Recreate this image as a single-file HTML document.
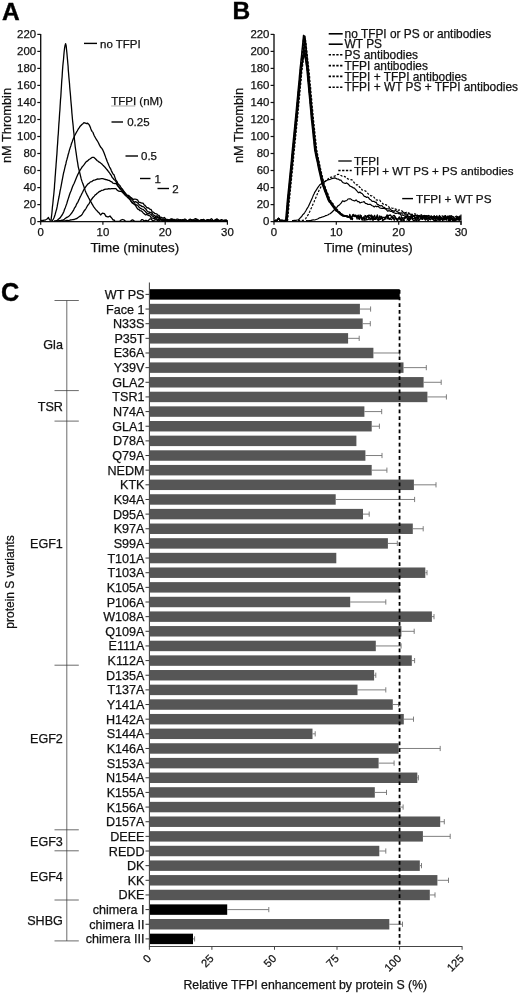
<!DOCTYPE html>
<html><head><meta charset="utf-8"><title>Figure</title>
<style>html,body{margin:0;padding:0;background:#fff}body{width:520px;height:994px;overflow:hidden;font-family:"Liberation Sans",sans-serif}</style></head>
<body>
<svg width="520" height="994" viewBox="0 0 520 994" style="display:block;filter:grayscale(1)">
<rect width="520" height="994" fill="#fff"/>
<g>
<text x="2" y="20.4" font-family="Liberation Sans, sans-serif" font-size="24.5" font-weight="bold" fill="#000" stroke="#000" stroke-width="0.4">A</text>
<text x="232.4" y="19.3" font-family="Liberation Sans, sans-serif" font-size="24.5" font-weight="bold" fill="#000" stroke="#000" stroke-width="0.4">B</text>
<text x="1.0" y="300.5" font-family="Liberation Sans, sans-serif" font-size="25.2" font-weight="bold" fill="#000" stroke="#000" stroke-width="0.4">C</text>
<path d="M40.7 33.9 V221.6 H227.9" fill="none" stroke="#111" stroke-width="1.35"/>
<path d="M37.300000000000004 221.6 H40.7" stroke="#111" stroke-width="1.2"/>
<text x="36.1" y="225.3" font-family="Liberation Sans, sans-serif" font-size="11.4" text-anchor="end" fill="#111" stroke="#111" stroke-width="0.25">0</text>
<path d="M37.300000000000004 204.6 H40.7" stroke="#111" stroke-width="1.2"/>
<text x="36.1" y="208.3" font-family="Liberation Sans, sans-serif" font-size="11.4" text-anchor="end" fill="#111" stroke="#111" stroke-width="0.25">20</text>
<path d="M37.300000000000004 187.6 H40.7" stroke="#111" stroke-width="1.2"/>
<text x="36.1" y="191.3" font-family="Liberation Sans, sans-serif" font-size="11.4" text-anchor="end" fill="#111" stroke="#111" stroke-width="0.25">40</text>
<path d="M37.300000000000004 170.5 H40.7" stroke="#111" stroke-width="1.2"/>
<text x="36.1" y="174.2" font-family="Liberation Sans, sans-serif" font-size="11.4" text-anchor="end" fill="#111" stroke="#111" stroke-width="0.25">60</text>
<path d="M37.300000000000004 153.5 H40.7" stroke="#111" stroke-width="1.2"/>
<text x="36.1" y="157.2" font-family="Liberation Sans, sans-serif" font-size="11.4" text-anchor="end" fill="#111" stroke="#111" stroke-width="0.25">80</text>
<path d="M37.300000000000004 136.5 H40.7" stroke="#111" stroke-width="1.2"/>
<text x="36.1" y="140.2" font-family="Liberation Sans, sans-serif" font-size="11.4" text-anchor="end" fill="#111" stroke="#111" stroke-width="0.25">100</text>
<path d="M37.300000000000004 119.5 H40.7" stroke="#111" stroke-width="1.2"/>
<text x="36.1" y="123.2" font-family="Liberation Sans, sans-serif" font-size="11.4" text-anchor="end" fill="#111" stroke="#111" stroke-width="0.25">120</text>
<path d="M37.300000000000004 102.5 H40.7" stroke="#111" stroke-width="1.2"/>
<text x="36.1" y="106.2" font-family="Liberation Sans, sans-serif" font-size="11.4" text-anchor="end" fill="#111" stroke="#111" stroke-width="0.25">140</text>
<path d="M37.300000000000004 85.4 H40.7" stroke="#111" stroke-width="1.2"/>
<text x="36.1" y="89.1" font-family="Liberation Sans, sans-serif" font-size="11.4" text-anchor="end" fill="#111" stroke="#111" stroke-width="0.25">160</text>
<path d="M37.300000000000004 68.4 H40.7" stroke="#111" stroke-width="1.2"/>
<text x="36.1" y="72.1" font-family="Liberation Sans, sans-serif" font-size="11.4" text-anchor="end" fill="#111" stroke="#111" stroke-width="0.25">180</text>
<path d="M37.300000000000004 51.4 H40.7" stroke="#111" stroke-width="1.2"/>
<text x="36.1" y="55.1" font-family="Liberation Sans, sans-serif" font-size="11.4" text-anchor="end" fill="#111" stroke="#111" stroke-width="0.25">200</text>
<path d="M37.300000000000004 34.4 H40.7" stroke="#111" stroke-width="1.2"/>
<text x="36.1" y="38.1" font-family="Liberation Sans, sans-serif" font-size="11.4" text-anchor="end" fill="#111" stroke="#111" stroke-width="0.25">220</text>
<path d="M40.7 221.6 V224.79999999999998" stroke="#111" stroke-width="1.2"/>
<text x="40.7" y="235.9" font-family="Liberation Sans, sans-serif" font-size="11.4" text-anchor="middle" fill="#111" stroke="#111" stroke-width="0.25">0</text>
<path d="M102.9 221.6 V224.79999999999998" stroke="#111" stroke-width="1.2"/>
<text x="102.9" y="235.9" font-family="Liberation Sans, sans-serif" font-size="11.4" text-anchor="middle" fill="#111" stroke="#111" stroke-width="0.25">10</text>
<path d="M165.2 221.6 V224.79999999999998" stroke="#111" stroke-width="1.2"/>
<text x="165.2" y="235.9" font-family="Liberation Sans, sans-serif" font-size="11.4" text-anchor="middle" fill="#111" stroke="#111" stroke-width="0.25">20</text>
<path d="M227.4 221.6 V224.79999999999998" stroke="#111" stroke-width="1.2"/>
<text x="227.4" y="235.9" font-family="Liberation Sans, sans-serif" font-size="11.4" text-anchor="middle" fill="#111" stroke="#111" stroke-width="0.25">30</text>
<text x="134.8" y="251.9" font-family="Liberation Sans, sans-serif" font-size="13.4" text-anchor="middle" fill="#111" stroke="#111" stroke-width="0.25">Time (minutes)</text>
<text transform="translate(11.4,125.5) rotate(-90)" font-family="Liberation Sans, sans-serif" font-size="12.8" text-anchor="middle" fill="#111" stroke="#111" stroke-width="0.25">nM Thrombin</text>
<path d="M41.0 220.6 L42.0 220.4 L43.0 220.7 L44.0 220.2 L44.8 220.2 L45.7 219.8 L46.5 219.3 L47.5 218.7 L48.4 217.5 L49.6 219.9 L51.1 220.3 L51.4 217.1 L51.8 214.0 L52.1 210.9 L52.4 207.2 L52.8 204.0 L53.1 200.9 L53.4 197.8 L53.8 194.3 L54.1 190.9 L54.4 187.9 L54.6 184.0 L54.9 181.1 L55.1 177.4 L55.4 174.0 L55.6 170.6 L55.9 167.4 L56.1 164.3 L56.4 160.6 L56.6 157.5 L56.9 154.1 L57.1 150.6 L57.3 147.3 L57.6 143.6 L57.8 140.2 L58.0 136.9 L58.3 133.8 L58.5 130.3 L58.7 126.8 L58.9 123.6 L59.2 120.1 L59.4 116.6 L59.6 113.5 L59.9 110.0 L60.1 106.3 L60.3 103.2 L60.5 99.9 L60.8 96.8 L61.0 93.4 L61.2 89.9 L61.4 87.0 L61.6 83.2 L61.8 80.1 L62.1 77.0 L62.3 73.3 L62.5 70.2 L62.8 66.3 L63.1 63.1 L63.5 59.5 L63.8 55.8 L64.1 52.3 L64.5 48.7 L65.0 45.6 L65.6 43.6 L66.2 46.0 L66.5 49.4 L66.9 53.0 L67.2 56.5 L67.5 59.6 L67.8 63.2 L68.1 66.3 L68.3 70.1 L68.6 73.5 L68.9 77.2 L69.2 80.5 L69.5 83.5 L69.7 86.8 L70.0 90.3 L70.3 93.2 L70.6 96.7 L70.8 99.8 L71.1 103.1 L71.4 106.4 L71.7 110.1 L71.9 113.0 L72.2 116.3 L72.5 119.8 L72.9 123.4 L73.2 126.3 L73.5 129.9 L73.9 133.3 L74.2 136.9 L74.5 140.2 L74.9 143.6 L75.2 146.6 L75.7 150.0 L76.2 153.3 L76.7 157.0 L77.2 160.4 L77.7 163.2 L78.2 166.6 L79.2 170.7 L80.2 174.7 L81.2 178.9 L82.0 181.4 L82.8 183.6 L83.7 185.9 L84.5 188.5 L85.3 190.9 L86.1 192.7 L87.0 194.6 L87.8 196.1 L88.6 197.7 L89.5 199.4 L90.3 201.1 L91.1 202.1 L92.0 203.9 L92.8 205.2 L93.6 206.6 L94.5 207.8 L95.3 208.9 L96.1 209.9 L96.9 210.6 L97.8 211.8 L98.6 212.4 L99.4 213.3 L100.6 215.0 L101.5 214.0 L102.4 213.2 L103.4 213.4 L104.4 213.7 L106.0 216.3 L106.8 216.5 L107.6 216.9 L108.4 216.9 L110.0 216.0 L111.0 217.3 L112.0 218.4 L113.0 220.0 L114.0 219.9 L115.0 221.3 L115.9 221.3 L116.8 221.3 L117.8 221.3 L118.7 221.3 L119.6 221.3 L120.6 220.4 L121.6 219.8 L122.6 219.5 L123.6 219.8 L124.6 220.4 L125.6 221.3 L126.6 221.3 L127.6 221.3 L128.6 221.3 L129.6 221.3 L130.6 221.3 L131.5 220.3 L132.5 219.9 L133.4 220.3 L134.4 221.3 L135.4 221.3 L136.4 221.3 L137.4 221.3 L138.4 221.3 L139.4 221.3 L140.4 221.3 L141.6 219.7 L142.8 219.7 L144.0 221.3 L144.9 220.6 L145.9 220.3 L146.9 220.6 L147.9 221.3 L148.9 219.9 L149.9 218.9 L150.9 218.9 L152.0 219.9 L153.0 221.3 L153.9 220.5 L154.8 219.9 L155.8 219.7 L156.7 219.9 L157.6 220.5 L158.6 221.3 L159.6 220.0 L160.6 219.4 L161.6 220.0 L162.6 221.3 L163.5 220.7 L164.5 220.1 L165.5 220.0 L166.5 220.1 L167.4 220.7 L168.4 221.3 L169.4 220.1 L170.4 219.2 L171.4 218.8 L172.4 219.2 L173.3 220.1 L174.3 221.3 L175.3 220.2 L176.3 219.3 L177.3 219.0 L178.3 219.3 L179.3 220.2 L180.3 221.3 L181.3 220.2 L182.3 219.7 L183.4 220.2 L184.4 221.3 L185.6 221.3 L186.8 221.3 L188.0 221.3 L189.1 219.8 L190.2 219.1 L191.3 219.8 L192.4 221.3 L193.3 220.2 L194.2 219.3 L195.1 218.7 L196.0 218.7 L196.9 219.3 L197.8 220.2 L198.7 221.3 L199.7 220.6 L200.6 220.1 L201.5 219.7 L202.4 219.7 L203.3 220.1 L204.3 220.6 L205.2 221.3 L206.2 220.4 L207.3 220.0 L208.3 220.4 L209.4 221.3 L210.4 219.5 L211.4 218.7 L212.4 219.5 L213.5 221.3 L214.5 220.3 L215.5 219.5 L216.5 219.2 L217.5 219.5 L218.5 220.3 L219.5 221.3 L220.5 221.3 L221.5 221.3 L222.4 221.3 L223.4 221.3 L224.4 221.3 L225.4 221.3 L226.3 220.1 L227.1 221.3" fill="none" stroke="#000" stroke-width="1.3" stroke-linejoin="round"/>
<path d="M51.5 220.8 L51.9 220.7 L52.7 220.2 L53.4 219.0 L54.2 217.2 L55.2 214.2 L56.1 210.9 L56.6 209.3 L57.1 206.9 L57.6 204.1 L58.1 201.5 L58.6 198.8 L59.1 196.5 L59.6 193.8 L60.1 190.8 L60.6 188.7 L61.1 186.2 L61.6 183.4 L62.1 180.6 L62.6 178.1 L63.1 175.3 L63.6 172.8 L64.1 171.1 L64.7 168.3 L65.3 165.8 L65.9 163.7 L66.4 161.1 L67.0 159.2 L67.6 157.0 L68.2 154.5 L68.9 152.2 L69.5 149.9 L70.2 147.6 L70.9 145.7 L71.5 143.5 L72.2 141.7 L73.0 139.4 L73.8 137.9 L74.6 135.8 L75.4 134.2 L76.2 132.7 L77.2 131.0 L78.3 129.0 L79.3 127.7 L80.2 126.2 L81.9 124.5 L83.2 123.4 L83.9 122.6 L84.4 122.8 L85.2 123.0 L86.0 123.3 L86.8 123.6 L87.6 123.2 L88.4 123.9 L89.2 124.9 L89.8 126.1 L90.4 127.5 L90.9 129.0 L91.5 130.4 L92.2 131.6 L93.0 132.4 L93.5 134.1 L94.2 135.6 L95.1 137.2 L96.2 139.2 L97.3 140.8 L98.4 142.8 L99.4 144.9 L100.4 146.8 L101.2 147.7 L102.0 148.7 L103.0 150.4 L103.6 151.8 L104.3 153.6 L105.0 155.4 L105.7 157.4 L106.5 159.5 L107.3 161.8 L108.0 163.3 L108.8 165.3 L109.6 167.1 L110.5 168.6 L111.3 170.6 L112.2 172.4 L113.0 174.0 L114.0 174.8 L114.9 177.4 L115.9 180.1 L116.9 181.3 L117.8 183.5 L118.8 184.5 L119.8 185.4 L120.7 187.2 L121.7 188.5 L122.7 189.5 L123.6 192.1 L124.6 192.8 L125.5 193.3 L126.4 195.0 L127.3 195.6 L128.2 196.3 L129.2 199.1 L130.4 200.1 L131.3 201.7 L132.3 203.1 L133.3 203.1 L134.4 204.3 L135.5 205.5 L136.6 207.4 L137.8 209.2 L138.9 209.5 L140.0 210.7 L141.1 210.8 L142.2 211.6 L143.4 213.2 L144.5 213.9 L145.7 214.9 L146.8 214.5 L147.9 215.2 L149.0 215.5 L150.0 215.8 L151.5 218.2 L152.9 218.2 L154.2 218.6 L155.6 217.8 L156.8 219.2 L158.0 219.3 L159.4 220.1 L160.8 220.0 L162.1 220.1 L163.2 220.4 L164.0 220.7 L165.0 221.3 L166.0 220.7 L166.9 220.2 L167.9 220.2 L168.8 220.7 L169.8 221.3 L170.8 220.1 L171.8 219.4 L172.8 219.4 L173.8 220.1 L174.8 221.3 L175.8 221.3 L176.8 221.3 L177.8 221.3 L178.9 220.6 L180.0 220.3 L181.1 220.6 L182.2 221.3 L183.2 220.0 L184.3 219.2 L185.3 219.2 L186.3 220.0 L187.3 221.3 L188.3 220.5 L189.3 220.5 L190.3 221.3 L191.3 220.5 L192.2 219.9 L193.2 219.9 L194.2 220.5 L195.2 221.3 L196.2 220.4 L197.2 220.0 L198.3 220.4 L199.3 221.3 L200.3 220.2 L201.4 220.2 L202.4 221.3 L203.4 221.3 L204.4 221.3 L205.5 221.3 L206.4 220.1 L207.4 220.1 L208.4 221.3 L209.6 220.1 L210.7 220.1 L211.9 221.3 L212.9 221.3 L213.9 221.3 L214.9 221.3 L215.9 221.3 L216.8 221.3 L217.7 221.3 L218.6 221.3 L219.5 221.3 L220.7 221.3 L221.8 221.3 L222.9 221.3 L223.9 220.6 L224.8 220.2 L225.7 220.2 L226.6 220.6 L227.1 221.3" fill="none" stroke="#000" stroke-width="1.3" stroke-linejoin="round"/>
<path d="M54.0 220.8 L55.2 220.9 L57.1 220.5 L58.0 219.6 L59.0 218.7 L60.1 217.9 L61.1 216.4 L62.1 215.0 L63.0 213.4 L63.8 211.7 L64.6 209.3 L65.4 207.4 L66.2 205.1 L66.9 203.2 L67.5 201.0 L68.2 198.9 L68.9 196.7 L69.5 194.7 L70.2 192.7 L71.0 191.0 L71.8 188.7 L72.6 186.6 L73.4 184.7 L74.2 183.2 L75.0 181.3 L75.8 179.3 L76.6 177.2 L77.4 175.4 L78.2 173.8 L79.2 171.9 L80.2 169.9 L81.3 168.3 L82.3 166.7 L83.3 165.6 L84.3 164.3 L85.3 162.9 L86.3 161.6 L87.7 160.9 L89.0 159.5 L90.3 158.7 L92.0 157.4 L93.7 157.3 L95.4 158.7 L97.3 160.8 L98.2 161.3 L99.2 162.2 L100.2 162.6 L101.2 163.6 L102.4 164.6 L103.3 165.6 L104.2 166.4 L105.2 167.5 L106.3 168.8 L107.3 170.0 L108.3 171.4 L109.2 172.5 L110.2 174.0 L111.2 175.3 L112.2 177.5 L113.1 178.3 L114.0 179.5 L115.0 180.3 L116.0 181.6 L116.9 183.6 L117.9 185.5 L118.9 187.1 L119.8 188.7 L120.8 189.5 L121.9 190.6 L123.1 191.9 L124.2 193.2 L125.4 195.7 L126.5 196.1 L127.6 197.6 L128.7 198.1 L129.8 199.0 L131.0 201.1 L132.3 202.3 L133.3 203.7 L134.3 204.1 L135.3 204.1 L136.4 205.1 L137.6 205.1 L138.8 207.0 L140.0 207.9 L141.0 208.7 L142.1 209.1 L143.2 209.3 L144.3 210.6 L145.4 211.5 L146.6 213.0 L147.7 213.9 L148.9 213.5 L150.0 214.0 L151.1 214.4 L152.3 216.0 L153.4 216.7 L154.6 217.3 L155.8 217.7 L156.9 216.7 L158.0 218.2 L159.0 218.2 L160.0 218.9 L161.7 219.4 L163.4 220.0 L164.8 219.9 L166.1 220.4 L167.0 220.7 L168.0 221.3 L169.0 221.3 L170.0 221.3 L171.0 221.3 L172.0 221.3 L173.0 219.9 L174.0 219.3 L174.9 219.9 L175.9 221.3 L177.0 220.7 L178.1 220.4 L179.1 220.7 L180.2 221.3 L181.3 221.3 L182.3 221.3 L183.4 221.3 L184.3 221.3 L185.2 221.3 L186.1 221.3 L187.0 221.3 L188.0 221.3 L189.0 221.3 L190.0 221.3 L191.1 221.3 L192.1 221.3 L193.1 221.3 L194.1 221.3 L195.1 221.3 L196.2 220.0 L197.3 219.5 L198.4 220.0 L199.5 221.3 L200.6 221.3 L201.8 221.3 L203.0 221.3 L204.0 221.3 L204.9 221.3 L205.9 221.3 L206.9 221.3 L207.9 220.4 L208.9 220.4 L210.0 221.3 L211.0 220.8 L212.0 220.5 L213.1 220.5 L214.1 220.8 L215.1 221.3 L216.1 219.7 L217.1 219.0 L218.0 219.7 L219.0 221.3 L220.0 221.3 L221.0 221.3 L221.9 221.3 L222.9 221.3 L224.0 220.3 L225.1 220.3 L226.2 221.3 L227.1 221.3" fill="none" stroke="#000" stroke-width="1.3" stroke-linejoin="round"/>
<path d="M57.0 220.8 L57.8 220.9 L59.0 220.7 L60.5 220.7 L62.1 220.1 L63.1 220.1 L64.3 219.2 L65.5 218.2 L66.8 217.4 L68.0 216.8 L69.2 215.9 L70.2 214.9 L71.2 213.6 L72.1 212.5 L72.9 211.2 L73.6 210.1 L74.4 208.2 L75.2 207.2 L76.0 205.6 L76.9 203.5 L77.8 202.3 L78.6 200.4 L79.4 198.8 L80.2 196.9 L81.1 195.2 L81.9 193.5 L82.6 192.3 L83.4 190.5 L84.3 188.9 L85.2 187.6 L86.2 186.1 L87.2 184.8 L88.2 183.7 L89.3 183.1 L90.4 181.9 L91.6 181.7 L92.8 180.7 L94.1 180.2 L95.3 179.9 L96.5 179.3 L97.7 179.0 L99.0 179.1 L100.2 178.8 L101.4 178.7 L102.8 178.7 L104.2 179.1 L105.7 179.5 L107.3 179.8 L108.3 180.3 L109.4 180.4 L110.6 181.4 L111.7 181.8 L112.9 183.1 L114.0 183.3 L115.0 183.6 L116.3 183.4 L117.5 185.8 L118.6 186.3 L119.7 188.1 L120.8 188.9 L121.9 188.9 L123.1 190.6 L124.2 191.5 L125.4 193.3 L126.5 194.9 L127.6 195.5 L128.7 196.8 L129.8 196.8 L131.0 198.6 L132.3 199.7 L133.3 201.1 L134.3 202.4 L135.3 201.7 L136.4 202.2 L137.6 202.8 L138.8 204.2 L140.0 205.4 L140.9 205.5 L141.9 206.6 L142.8 206.5 L143.8 206.8 L144.9 208.2 L145.9 209.1 L146.9 210.6 L148.0 211.9 L149.0 211.9 L150.0 212.6 L151.1 212.5 L152.2 213.4 L153.4 215.2 L154.5 215.4 L155.6 216.5 L156.7 215.9 L157.8 216.3 L158.9 217.6 L160.0 217.5 L161.4 219.5 L162.9 219.0 L164.4 219.3 L165.8 219.5 L167.1 219.8 L168.2 220.1 L169.0 220.3 L170.0 221.3 L171.0 220.1 L171.9 219.5 L172.9 220.1 L173.9 221.3 L174.8 221.3 L175.8 221.3 L176.8 221.3 L177.8 221.3 L178.8 221.3 L179.7 219.7 L180.7 219.7 L181.6 221.3 L182.6 221.3 L183.6 221.3 L184.6 221.3 L185.6 221.3 L186.5 221.3 L187.4 221.3 L188.4 221.3 L189.4 220.3 L190.4 219.6 L191.4 219.6 L192.4 220.3 L193.4 221.3 L194.4 221.3 L195.5 221.3 L196.5 221.3 L197.5 221.3 L198.5 221.3 L199.6 221.3 L200.6 221.3 L201.6 221.3 L202.6 220.0 L203.6 219.4 L204.6 220.0 L205.7 221.3 L206.6 220.4 L207.5 219.7 L208.4 219.7 L209.3 220.4 L210.2 221.3 L211.2 221.3 L212.1 221.3 L213.1 221.3 L214.1 221.3 L215.0 220.5 L216.0 220.5 L217.0 221.3 L218.0 220.7 L219.0 220.3 L220.0 220.3 L221.0 220.7 L222.0 221.3 L223.0 221.3 L224.1 221.3 L225.1 221.3 L226.2 220.8 L227.1 221.3" fill="none" stroke="#000" stroke-width="1.3" stroke-linejoin="round"/>
<path d="M62.0 220.5 L62.9 220.8 L64.1 220.8 L65.5 220.7 L67.1 220.5 L68.7 220.6 L70.2 220.0 L71.5 219.9 L72.8 219.6 L74.2 219.5 L75.6 218.8 L76.9 218.5 L78.1 217.6 L79.2 216.8 L80.5 215.9 L81.5 215.2 L82.5 213.8 L83.3 212.3 L84.3 210.7 L85.1 209.8 L86.0 208.5 L86.8 207.0 L87.6 205.5 L88.5 204.4 L89.3 203.3 L90.3 201.3 L91.2 199.8 L92.2 198.5 L93.2 197.2 L94.3 196.1 L95.2 194.8 L96.2 194.3 L97.2 193.3 L98.3 192.4 L99.3 191.5 L100.4 191.3 L101.7 190.3 L103.2 190.1 L104.6 189.4 L106.0 189.1 L107.3 189.2 L108.8 188.7 L110.2 188.9 L111.6 188.7 L113.0 188.6 L114.4 188.6 L115.9 188.6 L117.3 190.2 L118.8 191.2 L120.0 191.3 L121.1 191.1 L122.3 192.2 L123.4 193.2 L124.6 194.5 L126.0 195.0 L127.3 195.5 L128.7 195.4 L130.4 197.3 L131.4 197.8 L132.5 198.8 L133.7 199.4 L134.9 199.0 L136.2 199.4 L137.5 199.8 L138.8 202.3 L140.0 202.4 L141.0 202.8 L142.0 203.2 L143.0 203.1 L144.0 204.7 L145.0 205.4 L146.0 206.6 L147.0 207.8 L148.0 207.7 L149.0 208.4 L150.0 209.4 L151.1 209.4 L152.3 212.0 L153.4 212.1 L154.6 213.3 L155.7 213.7 L156.8 213.9 L157.9 215.1 L159.0 215.4 L160.0 217.1 L161.5 217.4 L163.0 218.2 L164.4 217.5 L165.7 219.2 L166.9 219.7 L168.0 219.5 L169.8 220.2 L171.1 220.6 L172.0 220.7 L173.0 221.3 L174.0 221.3 L174.9 221.3 L175.9 221.3 L176.9 220.5 L177.9 220.5 L178.8 221.3 L179.8 220.7 L180.7 220.3 L181.6 220.3 L182.5 220.7 L183.4 221.3 L184.6 220.0 L185.7 220.0 L186.9 221.3 L188.0 220.4 L189.2 220.4 L190.3 221.3 L191.5 221.3 L192.6 221.3 L193.8 221.3 L194.7 220.5 L195.6 219.9 L196.6 219.9 L197.5 220.5 L198.4 221.3 L199.4 221.3 L200.4 221.3 L201.4 221.3 L202.5 221.3 L203.5 221.3 L204.6 221.3 L205.7 221.3 L206.8 221.3 L207.8 220.6 L208.9 220.2 L209.9 220.2 L210.9 220.6 L211.9 221.3 L213.1 221.3 L214.2 221.3 L215.3 221.3 L216.3 220.7 L217.3 220.4 L218.3 220.7 L219.3 221.3 L220.3 220.3 L221.2 219.7 L222.1 219.7 L223.1 220.3 L224.0 221.3 L225.0 220.7 L225.9 220.3 L226.8 220.3 L227.1 221.3" fill="none" stroke="#000" stroke-width="1.3" stroke-linejoin="round"/>
<path d="M84 43.4 H97" stroke="#000" stroke-width="1.4"/>
<text x="100" y="47.5" font-family="Liberation Sans, sans-serif" font-size="11.5" fill="#111" stroke="#111" stroke-width="0.25">no TFPI</text>
<text x="111.2" y="104.9" font-family="Liberation Sans, sans-serif" font-size="11.5" fill="#111" stroke="#111" stroke-width="0.25">TFPI (nM)</text>
<path d="M111.2 106.0 H135.2" stroke="#999" stroke-width="0.8"/>
<path d="M111.5 122 H123" stroke="#000" stroke-width="1.4"/>
<text x="127.2" y="126.1" font-family="Liberation Sans, sans-serif" font-size="11.5" fill="#111" stroke="#111" stroke-width="0.25">0.25</text>
<path d="M125.5 156 H138" stroke="#000" stroke-width="1.4"/>
<text x="141" y="160.1" font-family="Liberation Sans, sans-serif" font-size="11.5" fill="#111" stroke="#111" stroke-width="0.25">0.5</text>
<path d="M140 178.5 H150.5" stroke="#000" stroke-width="1.4"/>
<text x="154.5" y="182.6" font-family="Liberation Sans, sans-serif" font-size="11.5" fill="#111" stroke="#111" stroke-width="0.25">1</text>
<path d="M157.5 188.5 H169" stroke="#000" stroke-width="1.4"/>
<text x="172.2" y="192.6" font-family="Liberation Sans, sans-serif" font-size="11.5" fill="#111" stroke="#111" stroke-width="0.25">2</text>
<path d="M274 33.9 V221.6 H461.5" fill="none" stroke="#111" stroke-width="1.35"/>
<path d="M270.6 221.6 H274" stroke="#111" stroke-width="1.2"/>
<text x="269.4" y="225.1" font-family="Liberation Sans, sans-serif" font-size="11.4" text-anchor="end" fill="#111" stroke="#111" stroke-width="0.25">0</text>
<path d="M270.6 204.6 H274" stroke="#111" stroke-width="1.2"/>
<text x="269.4" y="208.1" font-family="Liberation Sans, sans-serif" font-size="11.4" text-anchor="end" fill="#111" stroke="#111" stroke-width="0.25">20</text>
<path d="M270.6 187.6 H274" stroke="#111" stroke-width="1.2"/>
<text x="269.4" y="191.1" font-family="Liberation Sans, sans-serif" font-size="11.4" text-anchor="end" fill="#111" stroke="#111" stroke-width="0.25">40</text>
<path d="M270.6 170.5 H274" stroke="#111" stroke-width="1.2"/>
<text x="269.4" y="174.0" font-family="Liberation Sans, sans-serif" font-size="11.4" text-anchor="end" fill="#111" stroke="#111" stroke-width="0.25">60</text>
<path d="M270.6 153.5 H274" stroke="#111" stroke-width="1.2"/>
<text x="269.4" y="157.0" font-family="Liberation Sans, sans-serif" font-size="11.4" text-anchor="end" fill="#111" stroke="#111" stroke-width="0.25">80</text>
<path d="M270.6 136.5 H274" stroke="#111" stroke-width="1.2"/>
<text x="269.4" y="140.0" font-family="Liberation Sans, sans-serif" font-size="11.4" text-anchor="end" fill="#111" stroke="#111" stroke-width="0.25">100</text>
<path d="M270.6 119.5 H274" stroke="#111" stroke-width="1.2"/>
<text x="269.4" y="123.0" font-family="Liberation Sans, sans-serif" font-size="11.4" text-anchor="end" fill="#111" stroke="#111" stroke-width="0.25">120</text>
<path d="M270.6 102.5 H274" stroke="#111" stroke-width="1.2"/>
<text x="269.4" y="106.0" font-family="Liberation Sans, sans-serif" font-size="11.4" text-anchor="end" fill="#111" stroke="#111" stroke-width="0.25">140</text>
<path d="M270.6 85.4 H274" stroke="#111" stroke-width="1.2"/>
<text x="269.4" y="88.9" font-family="Liberation Sans, sans-serif" font-size="11.4" text-anchor="end" fill="#111" stroke="#111" stroke-width="0.25">160</text>
<path d="M270.6 68.4 H274" stroke="#111" stroke-width="1.2"/>
<text x="269.4" y="71.9" font-family="Liberation Sans, sans-serif" font-size="11.4" text-anchor="end" fill="#111" stroke="#111" stroke-width="0.25">180</text>
<path d="M270.6 51.4 H274" stroke="#111" stroke-width="1.2"/>
<text x="269.4" y="54.9" font-family="Liberation Sans, sans-serif" font-size="11.4" text-anchor="end" fill="#111" stroke="#111" stroke-width="0.25">200</text>
<path d="M270.6 34.4 H274" stroke="#111" stroke-width="1.2"/>
<text x="269.4" y="37.9" font-family="Liberation Sans, sans-serif" font-size="11.4" text-anchor="end" fill="#111" stroke="#111" stroke-width="0.25">220</text>
<path d="M274.0 221.6 V224.79999999999998" stroke="#111" stroke-width="1.2"/>
<text x="274.0" y="235.9" font-family="Liberation Sans, sans-serif" font-size="11.4" text-anchor="middle" fill="#111" stroke="#111" stroke-width="0.25">0</text>
<path d="M336.3 221.6 V224.79999999999998" stroke="#111" stroke-width="1.2"/>
<text x="336.3" y="235.9" font-family="Liberation Sans, sans-serif" font-size="11.4" text-anchor="middle" fill="#111" stroke="#111" stroke-width="0.25">10</text>
<path d="M398.7 221.6 V224.79999999999998" stroke="#111" stroke-width="1.2"/>
<text x="398.7" y="235.9" font-family="Liberation Sans, sans-serif" font-size="11.4" text-anchor="middle" fill="#111" stroke="#111" stroke-width="0.25">20</text>
<path d="M461.0 221.6 V224.79999999999998" stroke="#111" stroke-width="1.2"/>
<text x="461.0" y="235.9" font-family="Liberation Sans, sans-serif" font-size="11.4" text-anchor="middle" fill="#111" stroke="#111" stroke-width="0.25">30</text>
<text x="368.4" y="251.9" font-family="Liberation Sans, sans-serif" font-size="13.4" text-anchor="middle" fill="#111" stroke="#111" stroke-width="0.25">Time (minutes)</text>
<text transform="translate(243.4,125.5) rotate(-90)" font-family="Liberation Sans, sans-serif" font-size="12.8" text-anchor="middle" fill="#111" stroke="#111" stroke-width="0.25">nM Thrombin</text>
<path d="M274.6 220.6 L275.8 220.5 L277.0 220.6 L278.6 218.3 L280.0 220.2 L281.0 220.6 L282.0 220.3 L283.0 220.3 L284.0 220.3 L285.6 220.6 L286.0 216.4 L286.3 212.6 L286.7 208.5 L287.0 204.4 L287.4 199.9 L287.8 195.8 L288.2 191.8 L288.6 188.0 L289.0 184.1 L289.4 180.0 L289.8 175.8 L290.2 172.0 L290.6 168.1 L291.0 164.1 L291.4 160.1 L291.7 156.2 L292.1 152.1 L292.5 147.8 L292.9 144.2 L293.3 139.9 L293.7 136.0 L294.1 131.9 L294.5 128.1 L294.9 123.8 L295.3 119.8 L295.7 115.8 L296.1 111.8 L296.4 108.2 L296.8 104.0 L297.2 99.9 L297.6 95.9 L297.9 92.3 L298.3 88.0 L298.7 83.8 L299.1 80.2 L299.4 76.1 L299.8 72.3 L300.2 67.4 L300.7 63.3 L301.1 59.1 L301.6 54.8 L302.0 50.5 L302.5 45.6 L302.9 41.4 L303.5 35.3 L304.2 41.3 L304.6 46.1 L305.0 50.3 L305.4 54.8 L305.9 58.9 L306.3 63.5 L306.7 67.6 L307.1 71.9 L307.5 76.2 L307.8 80.3 L308.2 83.8 L308.6 88.1 L308.9 92.1 L309.3 95.8 L309.7 99.9 L310.0 103.8 L310.4 107.8 L310.8 111.9 L311.1 116.1 L311.5 120.1 L312.0 124.1 L312.4 128.3 L312.9 132.8 L313.3 137.2 L313.8 141.2 L314.2 145.6 L314.7 149.8 L315.5 154.2 L316.3 158.0 L317.2 161.7 L318.0 165.8 L318.8 169.9 L320.0 174.9 L321.1 179.8 L322.3 184.4 L323.5 187.5 L324.6 190.9 L325.8 193.8 L326.9 196.8 L328.1 199.9 L329.2 201.9 L330.4 203.1 L331.5 204.8 L332.6 206.3 L333.8 207.9 L334.9 209.8 L336.0 210.9 L337.1 211.5 L338.2 212.3 L339.4 213.6 L340.5 214.3 L341.6 215.1 L342.7 215.9 L343.8 215.9 L344.9 216.4 L346.0 216.4 L347.1 217.0 L348.2 217.0 L349.3 217.1 L349.8 214.4 L351.1 218.2 L352.8 214.9 L354.2 216.6 L355.5 215.3 L356.6 217.5 L358.2 215.1 L359.5 219.3 L361.2 215.6 L362.2 220.1 L363.9 217.4 L364.8 220.1 L366.0 219.9 L367.4 219.5 L368.5 219.3 L369.5 217.0 L371.1 219.6 L372.2 215.9 L373.4 217.7 L374.6 215.4 L375.7 219.0 L377.3 214.9 L378.6 219.2 L379.6 219.7 L380.6 218.3 L381.9 218.5 L383.1 217.3 L384.4 217.3 L385.9 217.5 L387.1 214.9 L388.5 217.8 L389.6 219.4 L391.1 217.6 L392.2 217.7 L393.2 215.7 L394.4 215.5 L395.7 218.0 L396.6 218.8 L397.6 219.3 L399.1 218.0 L400.1 218.0 L401.3 220.7 L402.3 220.2 L404.0 219.4 L405.5 216.2 L407.2 218.0 L408.8 220.6 L409.9 219.8 L411.5 215.5 L412.7 219.7 L413.7 220.5 L414.9 220.1 L415.9 218.2 L417.5 216.5 L418.6 218.3 L419.8 215.5 L420.8 216.2 L422.5 219.4 L424.1 216.3 L425.6 216.0 L426.9 219.2 L428.1 220.6 L429.5 218.9 L431.1 216.0 L432.7 219.2 L434.0 220.2 L435.1 221.0 L436.4 217.6 L437.9 218.1 L439.0 220.0 L439.9 220.4 L441.0 219.4 L442.7 219.1 L444.2 217.5 L445.1 215.8 L446.1 219.3 L447.3 218.7 L448.9 216.4 L450.0 219.6 L451.0 215.7 L452.1 216.3 L453.3 217.0 L454.7 219.3 L455.8 219.5 L457.0 216.6 L458.7 217.2 L459.7 216.4 L460.5 218.8" fill="none" stroke="#000" stroke-width="1.35" stroke-linejoin="round"/>
<path d="M274.6 220.7 L275.8 220.5 L277.0 220.3 L278.6 218.3 L280.0 220.5 L281.0 220.5 L282.0 220.4 L283.0 220.6 L284.0 220.6 L285.0 220.9 L286.0 220.7 L287.0 220.4 L287.4 216.7 L287.7 212.1 L288.1 208.3 L288.4 204.1 L288.8 199.8 L289.2 195.7 L289.6 192.2 L290.0 187.7 L290.4 184.0 L290.8 180.3 L291.2 175.8 L291.6 171.8 L292.0 168.1 L292.4 164.0 L292.8 160.1 L293.1 156.2 L293.5 151.8 L293.9 147.9 L294.3 143.9 L294.7 139.7 L295.1 136.2 L295.5 132.2 L295.9 128.1 L296.3 123.7 L296.7 120.2 L297.1 116.1 L297.4 112.0 L297.8 108.1 L298.2 104.0 L298.6 99.8 L298.9 95.8 L299.3 91.8 L299.7 87.7 L300.1 83.9 L300.4 80.1 L300.8 76.1 L301.2 72.2 L301.6 67.8 L302.1 63.3 L302.5 59.2 L303.0 54.8 L303.4 50.7 L303.9 46.3 L304.3 41.9 L304.9 36.1 L305.6 42.3 L306.0 46.1 L306.4 50.8 L306.8 54.6 L307.3 59.0 L307.7 63.3 L308.1 67.9 L308.5 72.3 L308.9 76.1 L309.2 79.9 L309.6 84.2 L310.0 87.9 L310.3 91.8 L310.7 96.2 L311.1 100.1 L311.4 104.1 L311.8 108.1 L312.2 112.3 L312.5 116.0 L312.9 120.2 L313.4 124.4 L313.8 128.8 L314.3 132.8 L314.7 137.3 L315.2 141.5 L315.6 145.6 L316.1 149.8 L316.9 154.1 L317.7 157.7 L318.6 162.2 L319.4 165.8 L320.2 169.7 L321.4 174.6 L322.5 180.0 L323.7 184.5 L324.9 187.5 L326.0 190.5 L327.2 193.6 L328.3 197.0 L329.5 200.1 L330.6 201.7 L331.8 203.3 L332.9 204.5 L334.0 206.5 L335.2 207.9 L336.3 209.8 L337.4 210.8 L338.5 211.8 L339.6 212.2 L340.8 213.7 L341.9 214.7 L343.0 215.7 L344.1 215.4 L345.2 215.8 L346.3 216.0 L347.4 216.2 L348.5 217.0 L349.6 217.2 L350.7 217.4 L351.2 219.3 L352.6 216.0 L353.6 214.9 L355.1 215.6 L356.3 216.9 L357.2 215.9 L358.3 218.7 L359.5 216.3 L361.2 217.5 L362.7 218.2 L363.7 216.9 L364.9 219.1 L366.1 218.7 L367.4 215.8 L369.0 215.1 L370.6 215.6 L371.5 215.8 L373.0 220.5 L373.9 217.6 L375.2 219.4 L376.2 217.6 L377.4 219.7 L378.5 220.3 L379.7 216.0 L381.1 217.7 L382.1 218.5 L383.1 219.5 L384.5 219.5 L385.9 216.9 L387.2 217.2 L388.8 215.3 L390.4 215.0 L391.4 216.4 L393.1 217.9 L394.3 220.2 L395.4 217.7 L396.7 219.5 L398.2 218.8 L399.4 216.9 L400.4 220.0 L401.8 219.4 L402.9 217.6 L404.4 218.5 L405.4 217.8 L407.0 216.5 L408.0 216.9 L409.5 220.2 L410.5 216.1 L411.6 217.1 L413.0 216.1 L414.1 216.3 L415.8 219.6 L416.8 221.0 L417.8 217.5 L419.4 220.0 L420.9 217.9 L422.0 219.1 L423.0 216.5 L424.2 215.5 L425.4 220.1 L426.9 218.3 L428.3 218.1 L429.3 219.0 L430.5 219.8 L432.1 218.0 L433.5 219.9 L434.7 216.8 L436.2 220.7 L437.7 219.7 L439.3 219.6 L440.7 218.3 L441.9 219.3 L442.8 218.1 L444.4 219.9 L445.8 217.1 L447.0 218.3 L448.4 218.1 L449.8 221.0 L450.9 219.6 L452.4 218.0 L453.7 221.0 L454.6 219.0 L455.7 220.4 L457.3 218.9 L458.3 219.2 L459.6 220.1 L460.5 218.8" fill="none" stroke="#000" stroke-width="1.35" stroke-linejoin="round"/>
<path d="M274.6 220.8 L275.8 220.7 L277.0 220.4 L278.6 218.5 L280.0 220.7 L281.0 220.3 L282.0 220.6 L283.0 220.5 L284.0 220.8 L285.1 220.4 L286.3 220.9 L286.7 216.4 L287.0 212.1 L287.4 208.1 L287.7 204.1 L288.1 199.7 L288.5 196.0 L288.9 192.0 L289.3 188.1 L289.7 183.9 L290.1 179.9 L290.5 175.8 L290.9 172.1 L291.3 168.3 L291.7 164.0 L292.1 159.8 L292.4 156.2 L292.8 151.9 L293.2 147.8 L293.6 143.8 L294.0 140.2 L294.4 136.2 L294.8 132.1 L295.2 128.0 L295.6 124.0 L296.0 119.8 L296.4 116.3 L296.8 111.9 L297.1 108.1 L297.5 104.2 L297.9 100.2 L298.2 96.0 L298.6 91.9 L299.0 88.0 L299.4 83.8 L299.8 80.2 L300.1 75.9 L300.5 72.2 L301.5 66.9 L302.6 61.9 L303.6 56.9 L304.2 51.0 L304.9 56.8 L305.9 61.7 L306.8 67.1 L307.8 71.9 L308.2 75.8 L308.5 79.9 L308.9 84.0 L309.3 88.0 L309.6 92.1 L310.0 96.1 L310.4 99.9 L310.7 104.3 L311.1 108.2 L311.5 111.7 L311.8 116.2 L312.2 120.2 L312.7 124.5 L313.1 128.4 L313.6 133.1 L314.0 137.2 L314.5 141.1 L314.9 145.4 L315.4 150.3 L316.2 154.1 L317.0 157.9 L317.9 161.8 L318.7 165.8 L319.5 169.8 L320.7 175.0 L321.8 179.6 L323.0 184.4 L324.2 187.9 L325.3 190.9 L326.5 193.6 L327.6 197.2 L328.8 200.1 L329.9 201.8 L331.1 203.3 L332.2 205.0 L333.3 206.6 L334.5 208.2 L335.6 209.4 L336.7 210.7 L337.8 211.6 L339.0 212.6 L340.1 213.4 L341.2 214.7 L342.3 215.4 L343.4 215.5 L344.5 215.8 L345.6 216.0 L346.7 216.5 L347.8 216.5 L348.9 217.0 L350.0 217.1" fill="none" stroke="#000" stroke-width="1.3" stroke-linejoin="round"/>
<path d="M274.6 220.7 L275.8 220.5 L277.0 220.4 L278.6 218.8 L280.0 220.1 L281.0 220.7 L282.0 220.5 L283.0 220.6 L284.0 220.7 L285.1 220.8 L286.1 220.5 L286.5 216.4 L286.8 212.6 L287.2 208.0 L287.5 204.2 L287.9 200.1 L288.3 195.7 L288.7 192.1 L289.1 188.1 L289.5 184.3 L289.9 179.9 L290.3 176.3 L290.7 172.0 L291.1 168.0 L291.5 164.2 L291.9 159.7 L292.2 156.1 L292.6 152.1 L293.0 147.9 L293.4 144.2 L293.8 139.9 L294.2 136.0 L294.6 132.0 L295.0 128.2 L295.4 123.8 L295.8 120.0 L296.2 116.0 L296.6 112.0 L296.9 108.2 L297.3 103.9 L297.7 100.2 L298.1 95.9 L298.4 92.0 L298.8 87.9 L299.2 84.0 L299.6 80.3 L299.9 76.1 L300.3 72.2 L300.7 67.4 L301.2 63.0 L301.6 58.5 L302.1 54.2 L302.5 49.8 L303.0 45.4 L303.4 40.5 L304.0 34.9 L304.7 41.0 L305.1 45.3 L305.5 49.4 L305.9 54.1 L306.4 58.3 L306.8 62.9 L307.2 67.8 L307.6 72.1 L308.0 76.1 L308.3 80.2 L308.7 84.2 L309.1 88.1 L309.4 92.1 L309.8 96.1 L310.2 100.1 L310.5 104.1 L310.9 108.1 L311.3 111.8 L311.6 116.1 L312.0 120.0 L312.5 124.4 L312.9 128.3 L313.4 132.7 L313.8 136.9 L314.3 141.6 L314.7 146.0 L315.2 150.1 L316.0 153.9 L316.8 158.2 L317.7 162.2 L318.5 166.0 L319.3 169.9 L320.5 174.7 L321.6 179.7 L322.8 184.5 L324.0 187.6 L325.1 190.8 L326.3 194.1 L327.4 196.7 L328.6 200.0 L329.7 201.3 L330.9 203.0 L332.0 205.0 L333.1 206.4 L334.3 208.3 L335.4 209.6 L336.5 210.3 L337.6 211.5 L338.8 212.6 L339.9 213.7 L341.0 214.7 L342.1 215.4 L343.2 215.6 L344.3 215.7 L345.4 216.3 L346.5 216.3 L347.6 216.5 L348.7 216.7 L349.8 217.0 L350.3 218.4 L351.3 220.1 L352.3 219.5 L353.3 214.4 L354.8 215.8 L356.2 215.5 L357.2 219.0 L358.7 219.5 L360.1 214.9 L361.5 218.7 L362.8 220.1 L363.9 220.3 L365.4 214.6 L366.3 218.4 L367.9 215.0 L369.0 218.9 L370.1 219.7 L371.3 214.9 L372.5 218.1 L373.8 218.7 L374.8 219.4 L376.0 218.5 L377.4 217.2 L378.6 219.4 L380.3 219.4 L381.6 216.5 L382.6 220.6 L384.0 219.7 L385.2 218.4 L386.9 219.8 L388.3 216.7 L389.5 220.2 L390.7 219.0 L392.1 220.2 L393.6 216.6 L394.5 216.5 L395.8 218.4 L397.3 220.3 L398.3 220.0 L399.8 220.2 L401.2 216.6 L402.7 219.9 L404.2 220.5 L405.4 215.6 L406.7 219.9 L407.8 219.6 L409.4 216.5 L410.8 219.2 L412.1 216.4 L413.2 219.7 L414.7 217.9 L415.7 220.0 L417.2 216.6 L418.5 220.6 L420.1 218.4 L421.4 218.8 L422.5 216.4 L423.5 219.5 L424.7 218.7 L426.0 218.4 L427.0 215.6 L428.7 217.6 L429.7 219.2 L431.2 216.3 L432.6 217.5 L433.9 215.6 L434.8 221.0 L436.4 218.4 L437.8 217.1 L439.3 218.1 L440.9 220.1 L442.5 221.0 L443.6 215.8 L444.6 216.7 L445.6 215.9 L447.0 220.8 L448.2 221.0 L449.8 216.0 L451.2 218.1 L452.2 221.0 L453.3 219.1 L454.7 221.0 L456.2 218.1 L457.4 216.7 L459.1 221.0 L460.2 216.0 L460.5 218.8" fill="none" stroke="#000" stroke-width="1.4" stroke-linejoin="round" stroke-dasharray="2.3 1.4"/>
<path d="M274.6 220.6 L275.8 220.8 L277.0 220.6 L278.6 218.8 L280.0 220.1 L281.0 220.6 L282.0 220.6 L283.0 220.6 L284.0 220.9 L285.4 220.3 L286.7 220.4 L287.1 216.6 L287.4 212.6 L287.8 208.3 L288.1 204.0 L288.5 200.1 L288.9 196.2 L289.3 191.8 L289.7 187.9 L290.1 183.9 L290.5 179.8 L290.9 176.0 L291.3 171.8 L291.7 167.8 L292.1 163.8 L292.4 160.1 L292.8 155.7 L293.2 152.1 L293.6 147.8 L294.0 143.7 L294.4 140.3 L294.8 135.8 L295.2 132.3 L295.6 128.2 L296.0 124.2 L296.4 119.8 L296.8 116.0 L297.1 111.8 L297.5 108.3 L297.9 104.2 L298.3 100.1 L298.6 96.0 L299.0 91.9 L299.4 88.2 L299.8 84.0 L300.1 80.1 L300.5 75.8 L300.9 71.8 L301.3 67.6 L301.8 63.8 L302.2 59.6 L302.7 55.2 L303.1 51.5 L303.6 47.0 L304.0 42.9 L304.6 36.8 L305.3 42.9 L305.7 47.3 L306.1 51.2 L306.5 55.2 L307.0 59.6 L307.4 63.6 L307.8 68.1 L308.2 71.8 L308.6 76.3 L308.9 79.7 L309.3 84.2 L309.7 88.1 L310.0 91.8 L310.4 96.0 L310.8 99.9 L311.1 103.9 L311.5 107.8 L311.9 111.9 L312.2 116.3 L312.6 120.3 L313.1 124.5 L313.5 128.3 L314.0 132.7 L314.4 137.4 L314.9 141.2 L315.3 145.9 L315.8 149.9 L316.6 154.3 L317.4 157.7 L318.3 162.2 L319.1 165.9 L319.9 169.8 L321.1 174.6 L322.2 179.9 L323.4 184.6 L324.6 187.5 L325.7 190.7 L326.9 194.1 L328.0 196.8 L329.2 200.0 L330.3 201.4 L331.5 203.0 L332.6 205.0 L333.7 206.5 L334.9 207.8 L336.0 209.3 L337.1 210.3 L338.2 211.6 L339.4 212.5 L340.5 213.3 L341.6 214.3 L342.7 215.5 L343.8 215.8 L344.9 216.1 L346.0 216.3 L347.1 216.3 L348.2 216.5 L349.3 217.2 L350.4 217.2" fill="none" stroke="#000" stroke-width="1.4" stroke-linejoin="round" stroke-dasharray="2.3 1.4"/>
<path d="M274.6 220.8 L275.8 220.3 L277.0 220.6 L278.6 218.5 L280.0 220.6 L281.0 220.7 L282.0 220.5 L283.0 220.3 L284.0 220.8 L285.2 220.6 L286.4 220.8 L287.6 220.5 L288.0 216.3 L288.3 212.6 L288.7 208.2 L289.0 203.9 L289.4 199.9 L289.8 196.1 L290.2 191.7 L290.6 188.0 L291.0 184.0 L291.4 180.0 L291.8 175.8 L292.2 172.1 L292.6 168.2 L293.0 164.2 L293.4 159.9 L293.7 156.1 L294.1 151.9 L294.5 148.2 L294.9 143.7 L295.3 140.2 L295.7 136.3 L296.1 132.0 L296.5 128.0 L296.9 124.0 L297.3 120.0 L297.7 115.7 L298.1 112.3 L298.4 107.8 L298.8 103.8 L299.2 99.8 L299.6 95.9 L299.9 92.2 L300.3 87.7 L300.7 83.8 L301.1 80.1 L301.4 75.8 L301.8 71.7 L302.3 67.7 L302.8 63.4 L303.4 59.0 L303.9 54.8 L304.4 50.1 L304.9 46.2 L305.5 40.1 L306.2 45.7 L306.7 50.1 L307.2 54.7 L307.6 59.0 L308.1 63.2 L308.6 67.4 L309.1 71.9 L309.5 75.8 L309.8 80.1 L310.2 84.2 L310.6 87.8 L310.9 92.0 L311.3 96.1 L311.7 99.8 L312.0 104.2 L312.4 108.3 L312.8 111.9 L313.1 116.0 L313.5 120.2 L314.0 124.3 L314.4 128.5 L314.9 133.1 L315.3 137.3 L315.8 141.3 L316.2 145.6 L316.7 149.9 L317.5 154.0 L318.3 158.3 L319.2 162.2 L320.0 166.2 L320.8 170.2 L322.0 175.1 L323.1 179.5 L324.3 184.6 L325.5 188.0 L326.6 191.0 L327.8 193.7 L328.9 196.9 L330.1 200.1 L331.2 201.5 L332.4 203.2 L333.5 204.5 L334.6 206.4 L335.8 208.0 L336.9 209.3 L338.0 210.4 L339.1 211.8 L340.2 212.7 L341.4 213.7 L342.5 214.5 L343.6 215.6 L344.7 215.9 L345.8 216.2 L346.9 215.9 L348.0 216.6 L349.1 216.6 L350.2 217.1 L351.3 217.2" fill="none" stroke="#000" stroke-width="1.3" stroke-linejoin="round" stroke-dasharray="2.3 1.4"/>
<path d="M292.0 220.7 L293.0 220.7 L294.5 220.4 L296.0 220.3 L297.2 220.0 L298.4 220.0 L300.0 218.2 L300.8 217.3 L301.7 216.5 L302.6 214.9 L303.6 214.0 L304.6 212.8 L305.7 211.0 L306.7 209.2 L307.7 207.7 L308.5 206.3 L309.3 204.4 L310.1 202.7 L310.9 200.9 L311.7 199.2 L312.5 197.4 L313.2 195.6 L314.0 193.9 L314.7 192.3 L315.4 191.3 L316.5 189.7 L317.4 188.1 L318.3 186.8 L319.2 185.7 L320.2 184.4 L321.2 183.8 L322.2 182.9 L323.3 182.3 L324.4 181.7 L325.5 181.1 L326.6 180.5 L327.7 180.0 L328.8 179.6 L330.2 179.3 L331.6 178.7 L332.9 178.5 L334.3 177.9 L335.6 178.2 L336.9 178.9 L338.2 179.1 L339.6 180.1 L340.9 180.1 L342.3 182.0 L343.3 182.8 L344.4 183.2 L345.5 183.5 L346.6 182.9 L347.8 183.8 L348.9 184.8 L350.0 186.2 L351.1 186.5 L352.2 187.1 L353.3 187.9 L354.4 188.1 L355.5 189.4 L356.6 190.5 L357.7 192.0 L358.8 192.8 L359.9 192.0 L361.0 193.1 L362.1 193.5 L363.2 194.9 L364.3 196.4 L365.4 196.6 L366.5 197.4 L367.6 197.0 L368.7 197.8 L369.7 199.3 L370.8 199.8 L371.9 201.1 L373.0 201.4 L374.1 201.4 L375.2 202.4 L376.2 202.2 L377.3 204.5 L378.4 204.6 L379.6 205.6 L380.8 205.9 L381.9 205.5 L383.1 207.1 L384.3 207.3 L385.5 208.5 L386.7 208.7 L388.0 208.8 L389.2 208.8 L390.4 209.1 L391.6 210.6 L392.8 210.6 L394.0 211.5 L395.2 210.4 L396.4 211.1 L397.6 211.7 L398.8 212.4 L400.0 213.1 L401.2 212.9 L402.5 213.2 L403.7 212.5 L405.0 213.9 L406.2 213.8 L407.5 214.6 L408.7 213.6 L410.0 214.2 L411.2 214.4 L412.5 214.9 L413.7 216.1 L414.9 215.2 L416.1 215.7 L417.4 215.0 L418.7 216.4 L420.0 215.9 L421.2 216.8 L422.5 216.2 L423.8 215.8 L425.2 215.6 L426.6 217.3 L428.0 216.9 L429.2 217.4 L430.3 216.6 L431.3 216.2 L432.0 217.2 L432.5 217.1 L433.8 218.0 L435.0 216.5 L436.4 216.5 L438.1 218.2 L439.4 215.5 L440.6 217.0 L441.9 217.9 L443.5 219.9 L444.8 217.4 L446.2 220.2 L447.4 218.0 L448.9 216.4 L450.1 220.3 L451.6 218.2 L452.6 220.0 L454.1 219.8 L455.8 220.2 L457.0 216.8 L458.1 218.5 L459.4 217.0 L460.5 219.2 L460.5 218.6" fill="none" stroke="#000" stroke-width="1.2" stroke-linejoin="round"/>
<path d="M298.0 220.6 L299.0 220.7 L300.5 220.3 L302.0 220.3 L303.2 220.4 L304.4 219.7 L305.8 218.6 L306.5 217.1 L307.3 216.0 L308.1 214.9 L309.0 213.0 L309.8 211.4 L310.7 209.3 L311.5 207.7 L312.3 205.9 L313.2 203.8 L314.0 202.0 L314.8 199.9 L315.6 198.3 L316.5 196.0 L317.3 194.1 L318.3 192.0 L319.2 190.0 L320.1 188.6 L321.1 186.4 L322.0 184.8 L323.0 183.5 L324.2 182.3 L325.3 181.3 L326.5 180.2 L327.6 179.5 L328.8 178.2 L330.3 177.3 L331.8 177.2 L333.2 176.4 L334.6 176.2 L336.2 175.2 L337.7 174.4 L339.4 174.4 L340.6 175.3 L342.0 176.1 L343.5 176.6 L344.9 176.4 L346.2 177.8 L347.7 178.8 L349.2 179.2 L350.6 179.7 L352.0 179.9 L353.1 181.2 L354.2 182.7 L355.3 183.7 L356.4 184.9 L357.7 184.8 L358.7 186.1 L359.8 187.3 L360.9 187.6 L362.0 189.9 L363.1 190.1 L364.3 190.3 L365.4 191.0 L366.5 191.7 L367.6 193.2 L368.7 194.3 L369.7 195.1 L370.8 195.8 L371.9 195.8 L373.0 196.7 L374.1 197.2 L375.2 199.1 L376.3 199.9 L377.5 200.1 L378.6 200.5 L379.7 200.2 L380.8 201.6 L381.9 202.6 L382.9 203.8 L383.9 204.7 L384.9 204.7 L386.0 204.7 L387.2 205.7 L388.5 206.3 L389.5 207.8 L390.6 207.5 L391.7 208.0 L392.9 208.3 L394.1 208.0 L395.3 209.1 L396.5 209.4 L397.7 210.6 L398.9 209.9 L400.0 210.1 L401.3 210.5 L402.6 211.4 L403.9 212.1 L405.1 212.6 L406.3 212.3 L407.5 211.9 L408.8 213.4 L410.0 213.1 L411.2 214.6 L412.5 214.3 L413.7 214.5 L414.9 213.7 L416.1 214.5 L417.4 215.7 L418.7 215.6 L420.0 216.0 L421.2 214.7 L422.5 216.0 L423.8 215.8 L425.2 216.8 L426.6 216.2 L428.0 216.0 L429.2 215.8 L430.3 216.7 L431.3 217.3 L432.0 217.1 L432.5 216.2 L433.6 217.4 L434.7 218.7 L435.7 217.1 L437.0 216.0 L438.5 216.6 L440.0 217.6 L441.1 216.8 L442.1 215.9 L443.7 216.7 L445.1 215.7 L446.4 217.0 L447.7 216.8 L448.7 216.9 L449.8 216.1 L451.2 217.0 L452.5 220.0 L454.0 220.0 L455.6 216.5 L456.7 216.1 L458.1 219.2 L459.3 218.1 L460.5 218.6" fill="none" stroke="#000" stroke-width="1.2" stroke-linejoin="round" stroke-dasharray="2.3 1.5"/>
<path d="M306.0 220.8 L306.8 220.5 L307.9 220.9 L309.2 220.5 L310.6 220.6 L312.0 220.1 L313.3 219.8 L314.7 220.0 L316.1 219.5 L317.6 219.0 L319.2 218.0 L320.2 217.6 L321.2 217.4 L322.3 217.0 L323.5 216.7 L324.6 216.3 L325.7 215.6 L326.8 215.3 L327.8 215.0 L328.8 214.2 L330.1 213.8 L331.3 212.7 L332.4 211.8 L333.5 210.5 L334.6 209.6 L335.6 208.8 L336.8 207.4 L337.9 205.9 L339.0 205.3 L340.1 204.2 L341.3 202.9 L342.6 200.8 L344.0 201.6 L345.5 200.8 L346.8 200.5 L348.0 199.0 L349.5 198.8 L350.6 198.9 L352.0 200.0 L353.3 200.5 L354.6 201.0 L356.1 199.9 L357.7 201.7 L358.9 201.6 L360.1 203.0 L361.4 202.3 L362.8 202.0 L364.1 201.6 L365.4 203.4 L366.7 203.6 L367.9 204.5 L369.2 204.3 L370.5 204.4 L371.7 205.5 L373.0 206.0 L374.3 206.9 L375.5 206.0 L376.8 206.8 L378.1 206.1 L379.4 207.7 L380.8 208.2 L382.1 208.5 L383.4 208.2 L384.8 208.6 L386.2 209.4 L387.6 211.2 L389.0 210.6 L390.4 211.3 L391.6 211.1 L392.8 212.2 L394.0 212.7 L395.2 213.3 L396.4 213.3 L397.6 213.0 L398.8 213.8 L400.0 213.7 L401.2 215.3 L402.5 214.9 L403.7 215.5 L405.0 214.8 L406.2 215.0 L407.5 215.6 L408.7 216.3 L410.0 216.5 L411.3 216.0 L412.7 215.9 L414.2 216.3 L415.6 217.5 L417.0 216.9 L418.2 217.0 L419.2 216.1 L420.0 217.1 L420.5 217.4 L422.0 215.7 L423.4 217.8 L424.7 218.6 L426.3 215.6 L427.4 216.8 L428.5 215.4 L429.6 216.1 L431.1 217.3 L432.1 216.8 L433.3 217.0 L434.4 215.6 L435.3 220.1 L436.8 215.8 L438.3 220.1 L439.6 216.0 L440.9 217.6 L442.0 218.2 L442.9 220.0 L444.3 218.6 L445.9 218.8 L447.0 216.9 L448.0 215.9 L449.6 219.8 L450.7 216.7 L452.1 220.0 L453.7 216.8 L455.3 220.0 L456.8 217.6 L457.8 220.1 L459.0 217.9 L460.3 218.0 L460.5 218.6" fill="none" stroke="#000" stroke-width="1.2" stroke-linejoin="round"/>
<path d="M461 214.5 V225" stroke="#111" stroke-width="1.1"/>
<path d="M328.7 33.8 H342.7" stroke="#000" stroke-width="1.6"/>
<text x="344.6" y="37.9" font-family="Liberation Sans, sans-serif" font-size="11.9" fill="#111" stroke="#111" stroke-width="0.25">no TFPI or PS or antibodies</text>
<path d="M328.7 44.2 H342.7" stroke="#000" stroke-width="1.6"/>
<text x="344.6" y="48.3" font-family="Liberation Sans, sans-serif" font-size="11.9" fill="#111" stroke="#111" stroke-width="0.25">WT PS</text>
<path d="M328.7 54.7 H342.7" stroke="#000" stroke-width="1.6" stroke-dasharray="2.3 1.5"/>
<text x="344.6" y="58.8" font-family="Liberation Sans, sans-serif" font-size="11.9" fill="#111" stroke="#111" stroke-width="0.25">PS antibodies</text>
<path d="M328.7 65.6 H342.7" stroke="#000" stroke-width="1.6" stroke-dasharray="2.3 1.5"/>
<text x="344.6" y="69.7" font-family="Liberation Sans, sans-serif" font-size="11.9" fill="#111" stroke="#111" stroke-width="0.25">TFPI antibodies</text>
<path d="M328.7 76.4 H342.7" stroke="#000" stroke-width="1.6" stroke-dasharray="2.3 1.5"/>
<text x="344.6" y="80.5" font-family="Liberation Sans, sans-serif" font-size="11.9" fill="#111" stroke="#111" stroke-width="0.25">TFPI + TFPI antibodies</text>
<path d="M328.7 87.3 H342.7" stroke="#000" stroke-width="1.6" stroke-dasharray="2.3 1.5"/>
<text x="344.6" y="91.4" font-family="Liberation Sans, sans-serif" font-size="11.9" fill="#111" stroke="#111" stroke-width="0.25">TFPI + WT PS + TFPI antibodies</text>
<path d="M338.3 161 H351.7" stroke="#000" stroke-width="1.3"/>
<text x="354" y="165.1" font-family="Liberation Sans, sans-serif" font-size="11.6" fill="#111" stroke="#111" stroke-width="0.25">TFPI</text>
<path d="M338.3 170.5 H351.7" stroke="#000" stroke-width="1.3" stroke-dasharray="2.3 1.5"/>
<text x="354" y="174.6" font-family="Liberation Sans, sans-serif" font-size="11.6" fill="#111" stroke="#111" stroke-width="0.25">TFPI + WT PS + PS antibodies</text>
<path d="M402.2 198.6 H413" stroke="#000" stroke-width="1.4"/>
<text x="416" y="202.7" font-family="Liberation Sans, sans-serif" font-size="11.7" fill="#111" stroke="#111" stroke-width="0.25">TFPI + WT PS</text>
<rect x="149.8" y="289.17" width="249.9" height="10.45" fill="#000"/>
<path d="M145.5 294.40 H149.4" stroke="#333" stroke-width="1"/>
<text x="144.5" y="298.9" font-family="Liberation Sans, sans-serif" font-size="12.6" text-anchor="end" fill="#111" stroke="#111" stroke-width="0.25">WT PS</text>
<rect x="149.8" y="303.82" width="210.1" height="10.45" fill="#565656"/>
<path d="M359.9 309.05 H370.6 M370.6 306.45 V311.65" stroke="#707070" stroke-width="0.9" fill="none"/>
<path d="M145.5 309.05 H149.4" stroke="#333" stroke-width="1"/>
<text x="144.5" y="313.55" font-family="Liberation Sans, sans-serif" font-size="12.6" text-anchor="end" fill="#111" stroke="#111" stroke-width="0.25">Face 1</text>
<rect x="149.8" y="318.47" width="212.9" height="10.45" fill="#565656"/>
<path d="M362.7 323.70 H370.3 M370.3 321.10 V326.30" stroke="#707070" stroke-width="0.9" fill="none"/>
<path d="M145.5 323.70 H149.4" stroke="#333" stroke-width="1"/>
<text x="144.5" y="328.2" font-family="Liberation Sans, sans-serif" font-size="12.6" text-anchor="end" fill="#111" stroke="#111" stroke-width="0.25">N33S</text>
<rect x="149.8" y="333.12" width="198.3" height="10.45" fill="#565656"/>
<path d="M348.1 338.34 H359.2 M359.2 335.74 V340.94" stroke="#707070" stroke-width="0.9" fill="none"/>
<path d="M145.5 338.34 H149.4" stroke="#333" stroke-width="1"/>
<text x="144.5" y="342.84" font-family="Liberation Sans, sans-serif" font-size="12.6" text-anchor="end" fill="#111" stroke="#111" stroke-width="0.25">P35T</text>
<rect x="149.8" y="347.77" width="223.6" height="10.45" fill="#565656"/>
<path d="M373.4 352.99 H399.7 M399.7 350.39 V355.59" stroke="#707070" stroke-width="0.9" fill="none"/>
<path d="M145.5 352.99 H149.4" stroke="#333" stroke-width="1"/>
<text x="144.5" y="357.49" font-family="Liberation Sans, sans-serif" font-size="12.6" text-anchor="end" fill="#111" stroke="#111" stroke-width="0.25">E36A</text>
<rect x="149.8" y="362.41" width="253.7" height="10.45" fill="#565656"/>
<path d="M403.5 367.64 H426.3 M426.3 365.04 V370.24" stroke="#707070" stroke-width="0.9" fill="none"/>
<path d="M145.5 367.64 H149.4" stroke="#333" stroke-width="1"/>
<text x="144.5" y="372.14" font-family="Liberation Sans, sans-serif" font-size="12.6" text-anchor="end" fill="#111" stroke="#111" stroke-width="0.25">Y39V</text>
<rect x="149.8" y="377.06" width="273.8" height="10.45" fill="#565656"/>
<path d="M423.6 382.29 H441.2 M441.2 379.69 V384.89" stroke="#707070" stroke-width="0.9" fill="none"/>
<path d="M145.5 382.29 H149.4" stroke="#333" stroke-width="1"/>
<text x="144.5" y="386.79" font-family="Liberation Sans, sans-serif" font-size="12.6" text-anchor="end" fill="#111" stroke="#111" stroke-width="0.25">GLA2</text>
<rect x="149.8" y="391.71" width="277.6" height="10.45" fill="#565656"/>
<path d="M427.4 396.93 H446.4 M446.4 394.33 V399.53" stroke="#707070" stroke-width="0.9" fill="none"/>
<path d="M145.5 396.93 H149.4" stroke="#333" stroke-width="1"/>
<text x="144.5" y="401.43" font-family="Liberation Sans, sans-serif" font-size="12.6" text-anchor="end" fill="#111" stroke="#111" stroke-width="0.25">TSR1</text>
<rect x="149.8" y="406.36" width="214.6" height="10.45" fill="#565656"/>
<path d="M364.4 411.58 H381.7 M381.7 408.98 V414.18" stroke="#707070" stroke-width="0.9" fill="none"/>
<path d="M145.5 411.58 H149.4" stroke="#333" stroke-width="1"/>
<text x="144.5" y="416.08" font-family="Liberation Sans, sans-serif" font-size="12.6" text-anchor="end" fill="#111" stroke="#111" stroke-width="0.25">N74A</text>
<rect x="149.8" y="421.00" width="221.9" height="10.45" fill="#565656"/>
<path d="M371.7 426.23 H379.4 M379.4 423.63 V428.83" stroke="#707070" stroke-width="0.9" fill="none"/>
<path d="M145.5 426.23 H149.4" stroke="#333" stroke-width="1"/>
<text x="144.5" y="430.73" font-family="Liberation Sans, sans-serif" font-size="12.6" text-anchor="end" fill="#111" stroke="#111" stroke-width="0.25">GLA1</text>
<rect x="149.8" y="435.65" width="206.6" height="10.45" fill="#565656"/>
<path d="M145.5 440.88 H149.4" stroke="#333" stroke-width="1"/>
<text x="144.5" y="445.38" font-family="Liberation Sans, sans-serif" font-size="12.6" text-anchor="end" fill="#111" stroke="#111" stroke-width="0.25">D78A</text>
<rect x="149.8" y="450.30" width="215.6" height="10.45" fill="#565656"/>
<path d="M365.4 455.52 H382 M382 452.92 V458.12" stroke="#707070" stroke-width="0.9" fill="none"/>
<path d="M145.5 455.52 H149.4" stroke="#333" stroke-width="1"/>
<text x="144.5" y="460.02" font-family="Liberation Sans, sans-serif" font-size="12.6" text-anchor="end" fill="#111" stroke="#111" stroke-width="0.25">Q79A</text>
<rect x="149.8" y="464.95" width="221.9" height="10.45" fill="#565656"/>
<path d="M371.7 470.17 H386.9 M386.9 467.57 V472.77" stroke="#707070" stroke-width="0.9" fill="none"/>
<path d="M145.5 470.17 H149.4" stroke="#333" stroke-width="1"/>
<text x="144.5" y="474.67" font-family="Liberation Sans, sans-serif" font-size="12.6" text-anchor="end" fill="#111" stroke="#111" stroke-width="0.25">NEDM</text>
<rect x="149.8" y="479.60" width="264.1" height="10.45" fill="#565656"/>
<path d="M413.9 484.82 H436 M436 482.22 V487.42" stroke="#707070" stroke-width="0.9" fill="none"/>
<path d="M145.5 484.82 H149.4" stroke="#333" stroke-width="1"/>
<text x="144.5" y="489.32" font-family="Liberation Sans, sans-serif" font-size="12.6" text-anchor="end" fill="#111" stroke="#111" stroke-width="0.25">KTK</text>
<rect x="149.8" y="494.24" width="185.9" height="10.45" fill="#565656"/>
<path d="M335.7 499.47 H414.6 M414.6 496.87 V502.07" stroke="#707070" stroke-width="0.9" fill="none"/>
<path d="M145.5 499.47 H149.4" stroke="#333" stroke-width="1"/>
<text x="144.5" y="503.97" font-family="Liberation Sans, sans-serif" font-size="12.6" text-anchor="end" fill="#111" stroke="#111" stroke-width="0.25">K94A</text>
<rect x="149.8" y="508.89" width="213.2" height="10.45" fill="#565656"/>
<path d="M363 514.12 H369.2 M369.2 511.52 V516.72" stroke="#707070" stroke-width="0.9" fill="none"/>
<path d="M145.5 514.12 H149.4" stroke="#333" stroke-width="1"/>
<text x="144.5" y="518.62" font-family="Liberation Sans, sans-serif" font-size="12.6" text-anchor="end" fill="#111" stroke="#111" stroke-width="0.25">D95A</text>
<rect x="149.8" y="523.54" width="263.0" height="10.45" fill="#565656"/>
<path d="M412.8 528.76 H423.2 M423.2 526.16 V531.36" stroke="#707070" stroke-width="0.9" fill="none"/>
<path d="M145.5 528.76 H149.4" stroke="#333" stroke-width="1"/>
<text x="144.5" y="533.26" font-family="Liberation Sans, sans-serif" font-size="12.6" text-anchor="end" fill="#111" stroke="#111" stroke-width="0.25">K97A</text>
<rect x="149.8" y="538.19" width="238.1" height="10.45" fill="#565656"/>
<path d="M387.9 543.41 H397.3 M397.3 540.81 V546.01" stroke="#707070" stroke-width="0.9" fill="none"/>
<path d="M145.5 543.41 H149.4" stroke="#333" stroke-width="1"/>
<text x="144.5" y="547.91" font-family="Liberation Sans, sans-serif" font-size="12.6" text-anchor="end" fill="#111" stroke="#111" stroke-width="0.25">S99A</text>
<rect x="149.8" y="552.83" width="186.5" height="10.45" fill="#565656"/>
<path d="M145.5 558.06 H149.4" stroke="#333" stroke-width="1"/>
<text x="144.5" y="562.56" font-family="Liberation Sans, sans-serif" font-size="12.6" text-anchor="end" fill="#111" stroke="#111" stroke-width="0.25">T101A</text>
<rect x="149.8" y="567.48" width="275.5" height="10.45" fill="#565656"/>
<path d="M425.3 572.71 H427 M427 570.11 V575.31" stroke="#707070" stroke-width="0.9" fill="none"/>
<path d="M145.5 572.71 H149.4" stroke="#333" stroke-width="1"/>
<text x="144.5" y="577.21" font-family="Liberation Sans, sans-serif" font-size="12.6" text-anchor="end" fill="#111" stroke="#111" stroke-width="0.25">T103A</text>
<rect x="149.8" y="582.13" width="249.9" height="10.45" fill="#565656"/>
<path d="M145.5 587.35 H149.4" stroke="#333" stroke-width="1"/>
<text x="144.5" y="591.85" font-family="Liberation Sans, sans-serif" font-size="12.6" text-anchor="end" fill="#111" stroke="#111" stroke-width="0.25">K105A</text>
<rect x="149.8" y="596.78" width="200.4" height="10.45" fill="#565656"/>
<path d="M350.2 602.00 H385.8 M385.8 599.40 V604.60" stroke="#707070" stroke-width="0.9" fill="none"/>
<path d="M145.5 602.00 H149.4" stroke="#333" stroke-width="1"/>
<text x="144.5" y="606.5" font-family="Liberation Sans, sans-serif" font-size="12.6" text-anchor="end" fill="#111" stroke="#111" stroke-width="0.25">P106A</text>
<rect x="149.8" y="611.42" width="282.1" height="10.45" fill="#565656"/>
<path d="M431.9 616.65 H434 M434 614.05 V619.25" stroke="#707070" stroke-width="0.9" fill="none"/>
<path d="M145.5 616.65 H149.4" stroke="#333" stroke-width="1"/>
<text x="144.5" y="621.15" font-family="Liberation Sans, sans-serif" font-size="12.6" text-anchor="end" fill="#111" stroke="#111" stroke-width="0.25">W108A</text>
<rect x="149.8" y="626.07" width="251.6" height="10.45" fill="#565656"/>
<path d="M401.4 631.30 H414.2 M414.2 628.70 V633.90" stroke="#707070" stroke-width="0.9" fill="none"/>
<path d="M145.5 631.30 H149.4" stroke="#333" stroke-width="1"/>
<text x="144.5" y="635.8" font-family="Liberation Sans, sans-serif" font-size="12.6" text-anchor="end" fill="#111" stroke="#111" stroke-width="0.25">Q109A</text>
<rect x="149.8" y="640.72" width="226.0" height="10.45" fill="#565656"/>
<path d="M375.8 645.95 H401.1 M401.1 643.35 V648.55" stroke="#707070" stroke-width="0.9" fill="none"/>
<path d="M145.5 645.95 H149.4" stroke="#333" stroke-width="1"/>
<text x="144.5" y="650.45" font-family="Liberation Sans, sans-serif" font-size="12.6" text-anchor="end" fill="#111" stroke="#111" stroke-width="0.25">E111A</text>
<rect x="149.8" y="655.37" width="262.0" height="10.45" fill="#565656"/>
<path d="M411.8 660.59 H414.6 M414.6 657.99 V663.19" stroke="#707070" stroke-width="0.9" fill="none"/>
<path d="M145.5 660.59 H149.4" stroke="#333" stroke-width="1"/>
<text x="144.5" y="665.09" font-family="Liberation Sans, sans-serif" font-size="12.6" text-anchor="end" fill="#111" stroke="#111" stroke-width="0.25">K112A</text>
<rect x="149.8" y="670.02" width="224.3" height="10.45" fill="#565656"/>
<path d="M374.1 675.24 H375.8 M375.8 672.64 V677.84" stroke="#707070" stroke-width="0.9" fill="none"/>
<path d="M145.5 675.24 H149.4" stroke="#333" stroke-width="1"/>
<text x="144.5" y="679.74" font-family="Liberation Sans, sans-serif" font-size="12.6" text-anchor="end" fill="#111" stroke="#111" stroke-width="0.25">D135A</text>
<rect x="149.8" y="684.66" width="207.7" height="10.45" fill="#565656"/>
<path d="M357.5 689.89 H385.8 M385.8 687.29 V692.49" stroke="#707070" stroke-width="0.9" fill="none"/>
<path d="M145.5 689.89 H149.4" stroke="#333" stroke-width="1"/>
<text x="144.5" y="694.39" font-family="Liberation Sans, sans-serif" font-size="12.6" text-anchor="end" fill="#111" stroke="#111" stroke-width="0.25">T137A</text>
<rect x="149.8" y="699.31" width="243.0" height="10.45" fill="#565656"/>
<path d="M392.8 704.54 H398.6 M398.6 701.94 V707.14" stroke="#707070" stroke-width="0.9" fill="none"/>
<path d="M145.5 704.54 H149.4" stroke="#333" stroke-width="1"/>
<text x="144.5" y="709.04" font-family="Liberation Sans, sans-serif" font-size="12.6" text-anchor="end" fill="#111" stroke="#111" stroke-width="0.25">Y141A</text>
<rect x="149.8" y="713.96" width="254.0" height="10.45" fill="#565656"/>
<path d="M403.8 719.18 H413.5 M413.5 716.58 V721.78" stroke="#707070" stroke-width="0.9" fill="none"/>
<path d="M145.5 719.18 H149.4" stroke="#333" stroke-width="1"/>
<text x="144.5" y="723.68" font-family="Liberation Sans, sans-serif" font-size="12.6" text-anchor="end" fill="#111" stroke="#111" stroke-width="0.25">H142A</text>
<rect x="149.8" y="728.61" width="162.7" height="10.45" fill="#565656"/>
<path d="M312.5 733.83 H315.2 M315.2 731.23 V736.43" stroke="#707070" stroke-width="0.9" fill="none"/>
<path d="M145.5 733.83 H149.4" stroke="#333" stroke-width="1"/>
<text x="144.5" y="738.33" font-family="Liberation Sans, sans-serif" font-size="12.6" text-anchor="end" fill="#111" stroke="#111" stroke-width="0.25">S144A</text>
<rect x="149.8" y="743.25" width="248.8" height="10.45" fill="#565656"/>
<path d="M398.6 748.48 H440.2 M440.2 745.88 V751.08" stroke="#707070" stroke-width="0.9" fill="none"/>
<path d="M145.5 748.48 H149.4" stroke="#333" stroke-width="1"/>
<text x="144.5" y="752.98" font-family="Liberation Sans, sans-serif" font-size="12.6" text-anchor="end" fill="#111" stroke="#111" stroke-width="0.25">K146A</text>
<rect x="149.8" y="757.90" width="228.8" height="10.45" fill="#565656"/>
<path d="M378.6 763.13 H394.1 M394.1 760.53 V765.73" stroke="#707070" stroke-width="0.9" fill="none"/>
<path d="M145.5 763.13 H149.4" stroke="#333" stroke-width="1"/>
<text x="144.5" y="767.63" font-family="Liberation Sans, sans-serif" font-size="12.6" text-anchor="end" fill="#111" stroke="#111" stroke-width="0.25">S153A</text>
<rect x="149.8" y="772.55" width="267.5" height="10.45" fill="#565656"/>
<path d="M417.3 777.77 H418.4 M418.4 775.17 V780.38" stroke="#707070" stroke-width="0.9" fill="none"/>
<path d="M145.5 777.77 H149.4" stroke="#333" stroke-width="1"/>
<text x="144.5" y="782.27" font-family="Liberation Sans, sans-serif" font-size="12.6" text-anchor="end" fill="#111" stroke="#111" stroke-width="0.25">N154A</text>
<rect x="149.8" y="787.20" width="225.0" height="10.45" fill="#565656"/>
<path d="M374.8 792.42 H386.5 M386.5 789.82 V795.02" stroke="#707070" stroke-width="0.9" fill="none"/>
<path d="M145.5 792.42 H149.4" stroke="#333" stroke-width="1"/>
<text x="144.5" y="796.92" font-family="Liberation Sans, sans-serif" font-size="12.6" text-anchor="end" fill="#111" stroke="#111" stroke-width="0.25">K155A</text>
<rect x="149.8" y="801.85" width="250.6" height="10.45" fill="#565656"/>
<path d="M400.4 807.07 H403.1 M403.1 804.47 V809.67" stroke="#707070" stroke-width="0.9" fill="none"/>
<path d="M145.5 807.07 H149.4" stroke="#333" stroke-width="1"/>
<text x="144.5" y="811.57" font-family="Liberation Sans, sans-serif" font-size="12.6" text-anchor="end" fill="#111" stroke="#111" stroke-width="0.25">K156A</text>
<rect x="149.8" y="816.49" width="290.4" height="10.45" fill="#565656"/>
<path d="M440.2 821.72 H444.3 M444.3 819.12 V824.32" stroke="#707070" stroke-width="0.9" fill="none"/>
<path d="M145.5 821.72 H149.4" stroke="#333" stroke-width="1"/>
<text x="144.5" y="826.22" font-family="Liberation Sans, sans-serif" font-size="12.6" text-anchor="end" fill="#111" stroke="#111" stroke-width="0.25">D157A</text>
<rect x="149.8" y="831.14" width="273.1" height="10.45" fill="#565656"/>
<path d="M422.9 836.37 H450.2 M450.2 833.77 V838.97" stroke="#707070" stroke-width="0.9" fill="none"/>
<path d="M145.5 836.37 H149.4" stroke="#333" stroke-width="1"/>
<text x="144.5" y="840.87" font-family="Liberation Sans, sans-serif" font-size="12.6" text-anchor="end" fill="#111" stroke="#111" stroke-width="0.25">DEEE</text>
<rect x="149.8" y="845.79" width="229.5" height="10.45" fill="#565656"/>
<path d="M379.3 851.01 H385.8 M385.8 848.41 V853.61" stroke="#707070" stroke-width="0.9" fill="none"/>
<path d="M145.5 851.01 H149.4" stroke="#333" stroke-width="1"/>
<text x="144.5" y="855.51" font-family="Liberation Sans, sans-serif" font-size="12.6" text-anchor="end" fill="#111" stroke="#111" stroke-width="0.25">REDD</text>
<rect x="149.8" y="860.44" width="270.0" height="10.45" fill="#565656"/>
<path d="M419.8 865.66 H421.5 M421.5 863.06 V868.26" stroke="#707070" stroke-width="0.9" fill="none"/>
<path d="M145.5 865.66 H149.4" stroke="#333" stroke-width="1"/>
<text x="144.5" y="870.16" font-family="Liberation Sans, sans-serif" font-size="12.6" text-anchor="end" fill="#111" stroke="#111" stroke-width="0.25">DK</text>
<rect x="149.8" y="875.08" width="287.6" height="10.45" fill="#565656"/>
<path d="M437.4 880.31 H448.5 M448.5 877.71 V882.91" stroke="#707070" stroke-width="0.9" fill="none"/>
<path d="M145.5 880.31 H149.4" stroke="#333" stroke-width="1"/>
<text x="144.5" y="884.81" font-family="Liberation Sans, sans-serif" font-size="12.6" text-anchor="end" fill="#111" stroke="#111" stroke-width="0.25">KK</text>
<rect x="149.8" y="889.73" width="280.0" height="10.45" fill="#565656"/>
<path d="M429.8 894.96 H435 M435 892.36 V897.56" stroke="#707070" stroke-width="0.9" fill="none"/>
<path d="M145.5 894.96 H149.4" stroke="#333" stroke-width="1"/>
<text x="144.5" y="899.46" font-family="Liberation Sans, sans-serif" font-size="12.6" text-anchor="end" fill="#111" stroke="#111" stroke-width="0.25">DKE</text>
<rect x="149.8" y="904.38" width="77.4" height="10.45" fill="#000"/>
<path d="M227.2 909.60 H268.8 M268.8 907.00 V912.20" stroke="#707070" stroke-width="0.9" fill="none"/>
<path d="M145.5 909.60 H149.4" stroke="#333" stroke-width="1"/>
<text x="144.5" y="914.1" font-family="Liberation Sans, sans-serif" font-size="12.6" text-anchor="end" fill="#111" stroke="#111" stroke-width="0.25">chimera I</text>
<rect x="149.8" y="919.03" width="239.5" height="10.45" fill="#565656"/>
<path d="M389.3 924.25 H402.5 M402.5 921.65 V926.85" stroke="#707070" stroke-width="0.9" fill="none"/>
<path d="M145.5 924.25 H149.4" stroke="#333" stroke-width="1"/>
<text x="144.5" y="928.75" font-family="Liberation Sans, sans-serif" font-size="12.6" text-anchor="end" fill="#111" stroke="#111" stroke-width="0.25">chimera II</text>
<rect x="149.8" y="933.67" width="43.2" height="10.45" fill="#000"/>
<path d="M193 938.90 H194.6 M194.6 936.30 V941.50" stroke="#707070" stroke-width="0.9" fill="none"/>
<path d="M145.5 938.90 H149.4" stroke="#333" stroke-width="1"/>
<text x="144.5" y="943.4" font-family="Liberation Sans, sans-serif" font-size="12.6" text-anchor="end" fill="#111" stroke="#111" stroke-width="0.25">chimera III</text>
<path d="M149.4 282.4 V946.4 H462.3" fill="none" stroke="#444" stroke-width="1.05"/>
<path d="M149.4 946.4 V949.8" stroke="#444" stroke-width="1"/>
<text transform="translate(151.9,959.2) rotate(-45)" font-family="Liberation Sans, sans-serif" font-size="11.1" text-anchor="end" fill="#111" stroke="#111" stroke-width="0.25">0</text>
<path d="M211.9 946.4 V949.8" stroke="#444" stroke-width="1"/>
<text transform="translate(214.4,959.2) rotate(-45)" font-family="Liberation Sans, sans-serif" font-size="11.1" text-anchor="end" fill="#111" stroke="#111" stroke-width="0.25">25</text>
<path d="M274.5 946.4 V949.8" stroke="#444" stroke-width="1"/>
<text transform="translate(277.0,959.2) rotate(-45)" font-family="Liberation Sans, sans-serif" font-size="11.1" text-anchor="end" fill="#111" stroke="#111" stroke-width="0.25">50</text>
<path d="M337.0 946.4 V949.8" stroke="#444" stroke-width="1"/>
<text transform="translate(339.5,959.2) rotate(-45)" font-family="Liberation Sans, sans-serif" font-size="11.1" text-anchor="end" fill="#111" stroke="#111" stroke-width="0.25">75</text>
<path d="M399.6 946.4 V949.8" stroke="#444" stroke-width="1"/>
<text transform="translate(402.1,959.2) rotate(-45)" font-family="Liberation Sans, sans-serif" font-size="11.1" text-anchor="end" fill="#111" stroke="#111" stroke-width="0.25">100</text>
<path d="M462.1 946.4 V949.8" stroke="#444" stroke-width="1"/>
<text transform="translate(464.6,959.2) rotate(-45)" font-family="Liberation Sans, sans-serif" font-size="11.1" text-anchor="end" fill="#111" stroke="#111" stroke-width="0.25">125</text>
<path d="M399.55 290 V946.4" stroke="#000" stroke-width="1.8" stroke-dasharray="3.7 2.94" stroke-dashoffset="-13.3"/>
<text x="305.3" y="989.2" font-family="Liberation Sans, sans-serif" font-size="12.3" text-anchor="middle" fill="#111" stroke="#111" stroke-width="0.25">Relative TFPI enhancement by protein S (%)</text>
<text transform="translate(13.9,582) rotate(-90)" font-family="Liberation Sans, sans-serif" font-size="12.0" text-anchor="middle" fill="#111" stroke="#111" stroke-width="0.25">protein S variants</text>
<path d="M66.8 300.5 V940.9" stroke="#3a3a3a" stroke-width="0.75"/>
<path d="M54.5 300.5 H78.8" stroke="#3a3a3a" stroke-width="0.75"/>
<path d="M54.5 390.6 H78.8" stroke="#3a3a3a" stroke-width="0.75"/>
<path d="M54.5 421.1 H78.8" stroke="#3a3a3a" stroke-width="0.75"/>
<path d="M54.5 665.2 H78.8" stroke="#3a3a3a" stroke-width="0.75"/>
<path d="M54.5 829.8 H78.8" stroke="#3a3a3a" stroke-width="0.75"/>
<path d="M54.5 850.8 H78.8" stroke="#3a3a3a" stroke-width="0.75"/>
<path d="M54.5 900 H78.8" stroke="#3a3a3a" stroke-width="0.75"/>
<path d="M54.5 940.9 H78.8" stroke="#3a3a3a" stroke-width="0.75"/>
<text x="62.9" y="348.5" font-family="Liberation Sans, sans-serif" font-size="12.6" text-anchor="end" fill="#111" stroke="#111" stroke-width="0.25">Gla</text>
<text x="62.9" y="411.2" font-family="Liberation Sans, sans-serif" font-size="12.6" text-anchor="end" fill="#111" stroke="#111" stroke-width="0.25">TSR</text>
<text x="62.9" y="547.7" font-family="Liberation Sans, sans-serif" font-size="12.6" text-anchor="end" fill="#111" stroke="#111" stroke-width="0.25">EGF1</text>
<text x="62.9" y="743.4" font-family="Liberation Sans, sans-serif" font-size="12.6" text-anchor="end" fill="#111" stroke="#111" stroke-width="0.25">EGF2</text>
<text x="62.9" y="846.2" font-family="Liberation Sans, sans-serif" font-size="12.6" text-anchor="end" fill="#111" stroke="#111" stroke-width="0.25">EGF3</text>
<text x="62.9" y="880.7" font-family="Liberation Sans, sans-serif" font-size="12.6" text-anchor="end" fill="#111" stroke="#111" stroke-width="0.25">EGF4</text>
<text x="62.9" y="924.7" font-family="Liberation Sans, sans-serif" font-size="12.6" text-anchor="end" fill="#111" stroke="#111" stroke-width="0.25">SHBG</text>
</g>
</svg>
</body></html>
